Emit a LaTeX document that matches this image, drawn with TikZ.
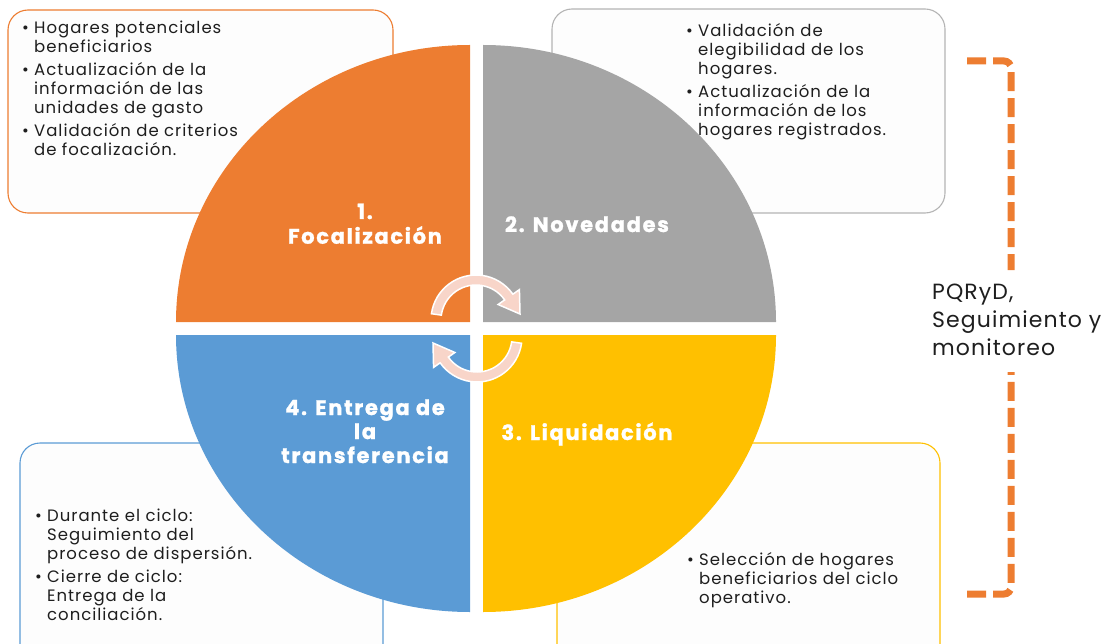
\documentclass[tikz,border=0pt]{standalone}
\usepackage{fontspec}
\setmainfont{Poppins}[LetterSpace=6]
\newfontfamily\lblfont{Poppins}[LetterSpace=8, BoldFeatures={FakeBold=1.2}]
\newfontfamily\sidefont{Poppins}[LetterSpace=5]
\definecolor{qorange}{HTML}{ED7D31}
\definecolor{qgray}{HTML}{A5A5A5}
\definecolor{qgrayline}{HTML}{B4B4B4}
\definecolor{qyellow}{HTML}{FFC000}
\definecolor{qblue}{HTML}{5B9BD5}
\definecolor{arrowpink}{HTML}{F8D5C9}
\definecolor{boxfill}{HTML}{FDFDFD}
\definecolor{txt}{HTML}{1E1E1E}
\begin{document}
\begin{tikzpicture}[x=1pt,y=-1pt,
  infobox/.style={line width=1.1pt, fill=boxfill, rounded corners=20pt},
  qlabel/.style={text=white, font=\lblfont\bfseries\fontsize{21}{24}\selectfont, inner sep=0, anchor=base},
  bultext/.style={text=txt, font=\fontsize{16.5}{19}\selectfont, inner sep=0, anchor=base west},
  cyc/.style={fill=arrowpink, draw=white, line width=1.5pt, line join=miter},
  bracket/.style={draw=qorange, line width=7pt, dash pattern=on 19pt off 7pt, rounded corners=7pt}
]
\useasboundingbox (0,0) rectangle (1110,644);
\newcommand{\bul}{\makebox[12pt][l]{•}}
% boxes
\draw[infobox, draw=qorange] (8,10) rectangle (393,213);
\draw[infobox, draw=qgrayline] (552,9) rectangle (945,213);
\draw[infobox, draw=qblue] (20,443) rectangle (383,668);
\draw[infobox, draw=qyellow] (557,443) rectangle (940,668);
% quadrants
\fill[qorange] (470,322) -- (176,322) arc[start angle=180, end angle=270, x radius=294, y radius=277] -- cycle;
\fill[qgray] (483,322) -- (483,45) arc[start angle=270, end angle=360, x radius=293, y radius=277] -- cycle;
\fill[qyellow] (483,335) -- (776,335) arc[start angle=0, end angle=90, x radius=293, y radius=277] -- cycle;
\fill[qblue] (470,335) -- (470,612) arc[start angle=90, end angle=180, x radius=294, y radius=277] -- cycle;
% quadrant labels
\node[qlabel] (l1) at (365,219) {\begin{tabular}[t]{@{}c@{}}1.\\Focalización\end{tabular}};
\node[qlabel] (l2) at (587,232) {2. Novedades};
\node[qlabel] (l3) at (587,440) {3. Liquidación};
\node[qlabel] (l4) at (365,415) {\begin{tabular}[t]{@{}c@{}}4. Entrega de\\la\\transferencia\end{tabular}};
% cycle arrows
\begin{scope}[shift={(476,320)}, yscale=-1]
  \path[cyc] (172:45) arc[start angle=172, end angle=35, radius=45] -- (35:53) -- (44,6) -- (35:27) -- (35:35) arc[start angle=35, end angle=172, radius=35] -- cycle;
\end{scope}
\begin{scope}[shift={(477,337)}, yscale=-1, rotate=180]
  \path[cyc] (172:45) arc[start angle=172, end angle=35, radius=45] -- (35:53) -- (44,6) -- (35:27) -- (35:35) arc[start angle=35, end angle=172, radius=35] -- cycle;
\end{scope}
% bullet texts
\node[bultext] (b1) at (22,34) {\begin{tabular}[t]{@{}l@{}l@{}}
\bul&Hogares potenciales\\&beneficiarios\\[4pt]
\bul&Actualización de la\\&información de las\\&unidades de gasto\\[4pt]
\bul&Validación de criterios\\&de focalización.\end{tabular}};
\node[bultext] (b2) at (686,37) {\begin{tabular}[t]{@{}l@{}l@{}}
\bul&Validación de\\&elegibilidad de los\\&hogares.\\[4pt]
\bul&Actualización de la\\&información de los\\&hogares registrados.\end{tabular}};
\node[bultext] (b3) at (35,521) {\begin{tabular}[t]{@{}l@{}l@{}}
\bul&Durante el ciclo:\\&Seguimiento del\\&proceso de dispersión.\\[4pt]
\bul&Cierre de ciclo:\\&Entrega de la\\&conciliación.\end{tabular}};
\node[bultext] (b4) at (687,565) {\begin{tabular}[t]{@{}l@{}l@{}}
\bul&Selección de hogares\\&beneficiarios del ciclo\\&operativo.\end{tabular}};
% bracket
\coordinate (bt0) at (967,61);
\coordinate (bt1) at (1011,61);
\coordinate (bt2) at (1011,270);
\coordinate (bb2) at (1011,372);
\coordinate (bb1) at (1011,594);
\coordinate (bb0) at (967,594);
\draw[bracket] (bt0) -- (bt1) -- (bt2);
\draw[bracket] (bb0) -- (bb1) -- (bb2);
\node[text=txt, font=\sidefont\fontsize{22}{28}\selectfont, inner sep=0, anchor=base west] (pq) at (932,299)
  {\begin{tabular}[t]{@{}l@{}}PQRyD,\\Seguimiento y\\monitoreo\end{tabular}};
\end{tikzpicture}
\end{document}
